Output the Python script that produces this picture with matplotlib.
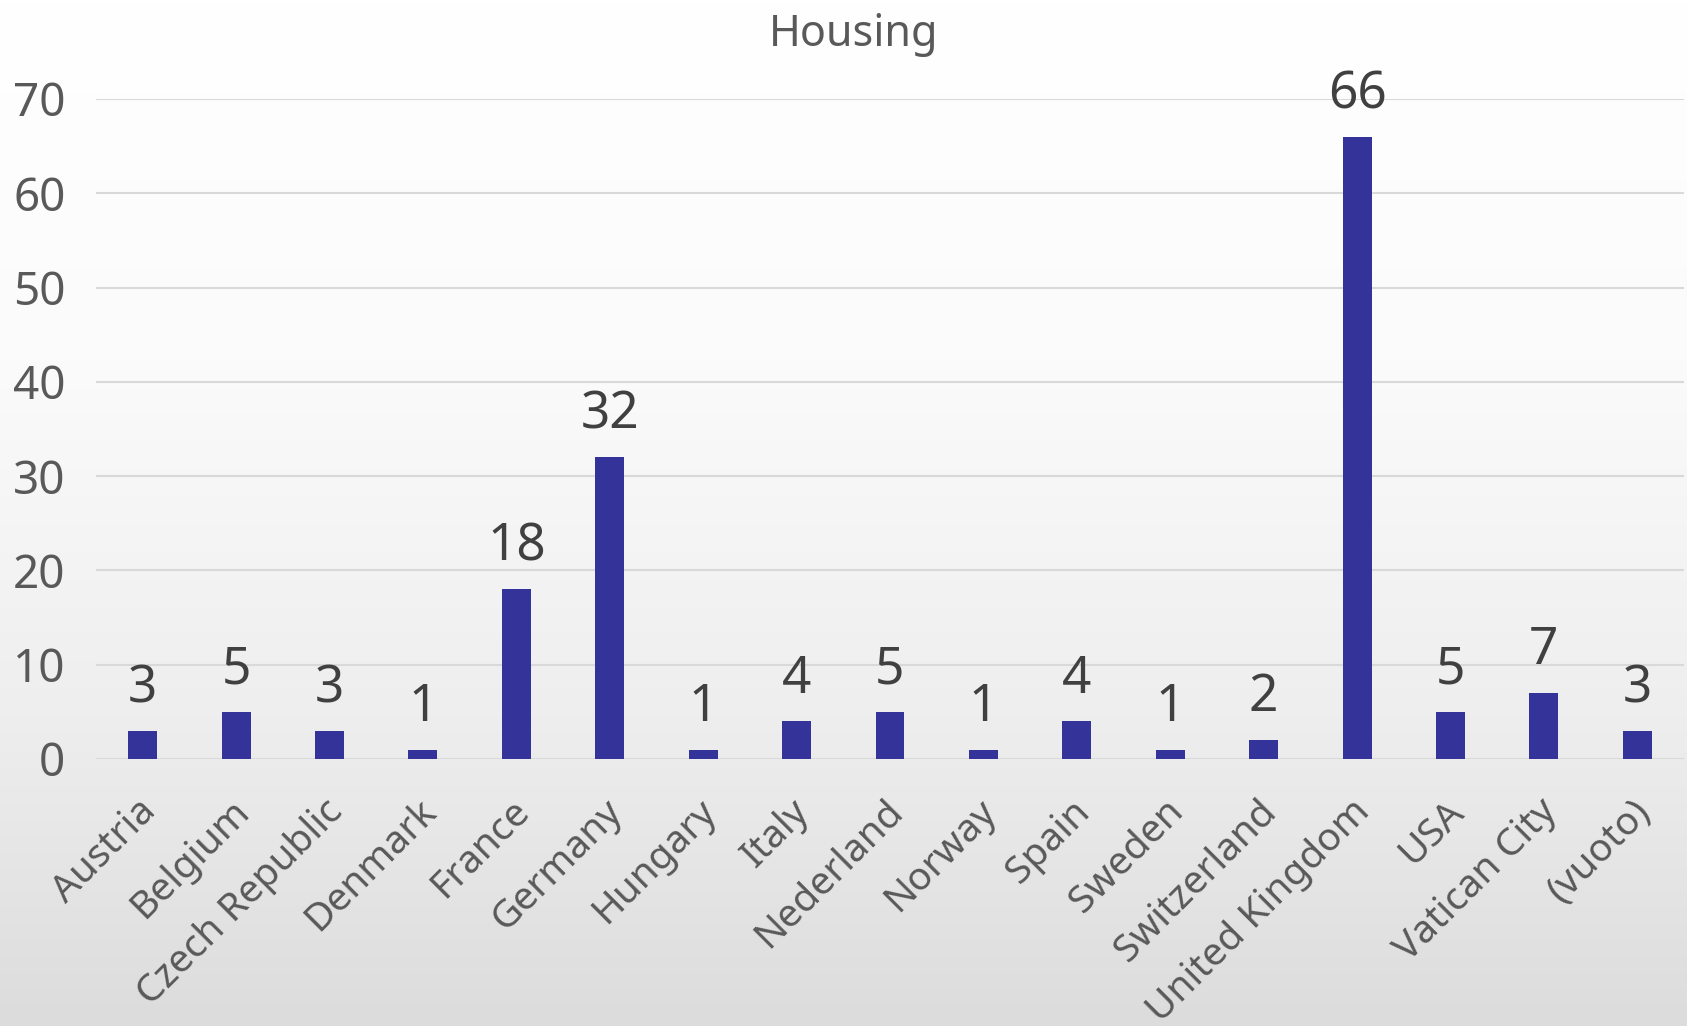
import numpy as np
import matplotlib
matplotlib.use("Agg")
import matplotlib.pyplot as plt
import matplotlib.transforms as mtransforms
from matplotlib.colors import LinearSegmentedColormap

plt.rcParams['font.family'] = ['Noto Sans', 'DejaVu Sans']

countries = ["Austria", "Belgium", "Czech Republic", "Denmark", "France",
             "Germany", "Hungary", "Italy", "Nederland", "Norway", "Spain",
             "Sweden", "Switzerland", "United Kingdom", "USA", "Vatican City",
             "(vuoto)"]
counts = [3, 5, 3, 1, 18, 32, 1, 4, 5, 1, 4, 1, 2, 66, 5, 7, 3]
yticks = [0, 10, 20, 30, 40, 50, 60, 70]

W, H = 1687, 1026
fig = plt.figure(figsize=(W / 100, H / 100), dpi=100)

# Soft vertical gradient behind the whole chart
bg = fig.add_axes([0, 0, 1, 1], zorder=-10)
grad = np.linspace(0, 1, 256).reshape(-1, 1)
cmap = LinearSegmentedColormap.from_list(
    "bg", [(0.0, "#ffffff"), (0.35, "#fbfbfb"), (0.7, "#eeeeee"), (1.0, "#dcdcdc")])
bg.imshow(grad, aspect="auto", cmap=cmap, extent=[0, 1, 0, 1], origin="upper")
bg.set_axis_off()

ax = fig.add_axes([96 / W, 1 - 759 / H, (1684 - 96) / W, (759 - 99) / H])
ax.set_facecolor("none")

x = np.arange(len(countries))
ax.bar(x, counts, width=0.31, color="#333399", zorder=3)

for xi, v in zip(x, counts):
    ax.annotate(str(v), (xi, v), xytext=(0, 12), textcoords="offset points",
                ha="center", va="bottom", fontsize=37, color="#404040")

ax.set_xlim(-0.5, len(countries) - 0.5)
ax.set_ylim(0, 70)
ax.set_yticks(yticks)
ax.set_yticklabels([str(t) for t in yticks])
ax.yaxis.grid(True, color="#d9d9d9", linewidth=1.5, zorder=0)
ax.set_axisbelow(True)
for s in ax.spines.values():
    s.set_visible(False)
ax.tick_params(axis="both", length=0, labelcolor="#595959")
ax.tick_params(axis="y", pad=22, labelsize=33)
ax.tick_params(axis="x", pad=24, labelsize=28)
ax.set_xticks(x)
ax.set_xticklabels(countries, rotation=45, ha="right", rotation_mode="anchor")

# nudge the slanted category labels slightly to the left
shift = mtransforms.ScaledTranslation(-6 / 100, 0, fig.dpi_scale_trans)
for lbl in ax.get_xticklabels():
    lbl.set_transform(lbl.get_transform() + shift)

fig.text(0.506, 0.966, "Housing", ha="center", va="center", fontsize=31,
         color="#595959")

fig.savefig("out.png", dpi=100)
